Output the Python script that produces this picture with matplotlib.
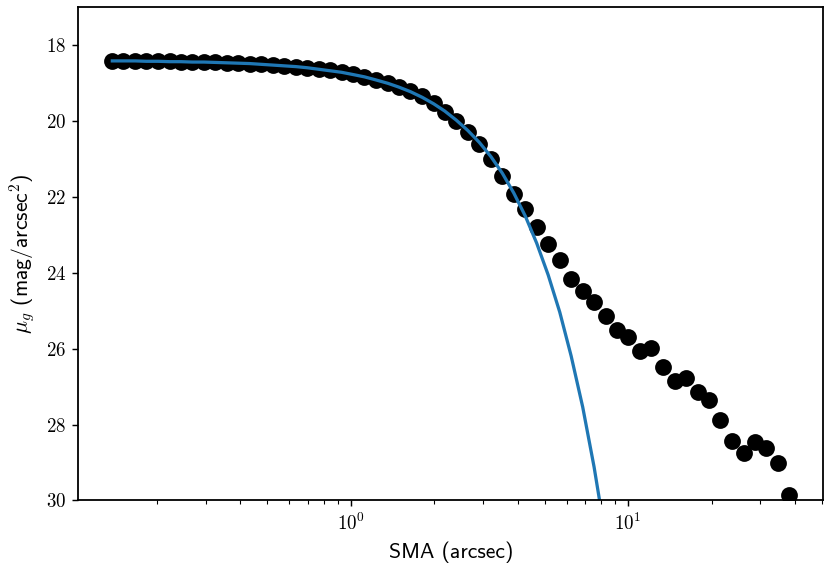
import matplotlib
matplotlib.use("Agg")
import numpy as np
import matplotlib.pyplot as plt

plt.rcParams['mathtext.fontset'] = 'cm'
plt.rcParams['font.family'] = 'cmr10'
plt.rcParams['axes.formatter.use_mathtext'] = True
plt.rcParams['font.size'] = 10
plt.rcParams['axes.linewidth'] = 1.0

# isophote semi-major axis (arcsec)
sma = [0.138, 0.151, 0.167, 0.183, 0.202, 0.222, 0.244, 0.268, 0.295, 0.325,
       0.357, 0.393, 0.432, 0.475, 0.523, 0.575, 0.633, 0.696, 0.766, 0.842,
       0.926, 1.02, 1.12, 1.23, 1.36, 1.49, 1.64, 1.81, 1.99, 2.18,
       2.40, 2.64, 2.91, 3.20, 3.52, 3.87, 4.26, 4.68, 5.15, 5.67,
       6.23, 6.86, 7.54, 8.30, 9.13, 10.0, 11.0, 12.1, 13.4, 14.7,
       16.2, 17.8, 19.6, 21.5, 23.7, 26.1, 28.7, 31.5, 34.7, 38.1]

# measured surface brightness (mag/arcsec^2)
mu_obs = [18.41, 18.41, 18.42, 18.42, 18.43, 18.43, 18.44, 18.44, 18.45, 18.46,
          18.47, 18.48, 18.49, 18.51, 18.53, 18.55, 18.57, 18.60, 18.63, 18.67,
          18.71, 18.77, 18.85, 18.92, 19.01, 19.10, 19.21, 19.35, 19.54, 19.76,
          20.01, 20.29, 20.62, 21.01, 21.46, 21.92, 22.31, 22.79, 23.25, 23.66,
          24.17, 24.48, 24.78, 25.14, 25.51, 25.69, 26.05, 25.99, 26.48, 26.84,
          26.77, 27.14, 27.35, 27.88, 28.42, 28.76, 28.46, 28.62, 29.00, 29.86]

# fitted model profile, sampled at the same radii
mu_model = [18.42, 18.42, 18.42, 18.43, 18.43, 18.44, 18.44, 18.45, 18.45, 18.46,
            18.47, 18.48, 18.49, 18.51, 18.53, 18.55, 18.57, 18.60, 18.64, 18.68,
            18.72, 18.78, 18.84, 18.92, 19.01, 19.11, 19.23, 19.38, 19.55, 19.74,
            19.98, 20.25, 20.57, 20.94, 21.38, 21.90, 22.51, 23.22, 24.06, 25.04,
            26.19, 27.54, 29.12, 30.98]

fig = plt.figure(figsize=(827 / 130, 565 / 130), dpi=130)
ax = fig.add_axes([0.0949, 0.1142, 0.9003, 0.8734])

ax.plot(sma, mu_obs, 'o', color='black', markersize=8.3)
ax.plot(sma[:len(mu_model)], mu_model, color='#1f77b4', linewidth=1.8)

ax.set_xscale('log')
ax.set_ylim(30, 17)
ax.set_yticks([18, 20, 22, 24, 26, 28, 30])
ax.tick_params(labelsize=10.5)

ax.set_xlabel('SMA (arcsec)', fontfamily='cmss10', fontsize=12)
ax.set_ylabel(r'$\mu_g$ (mag/arcsec$^2$)', fontfamily='cmss10', fontsize=12)

fig.savefig('out.png', dpi=130)
